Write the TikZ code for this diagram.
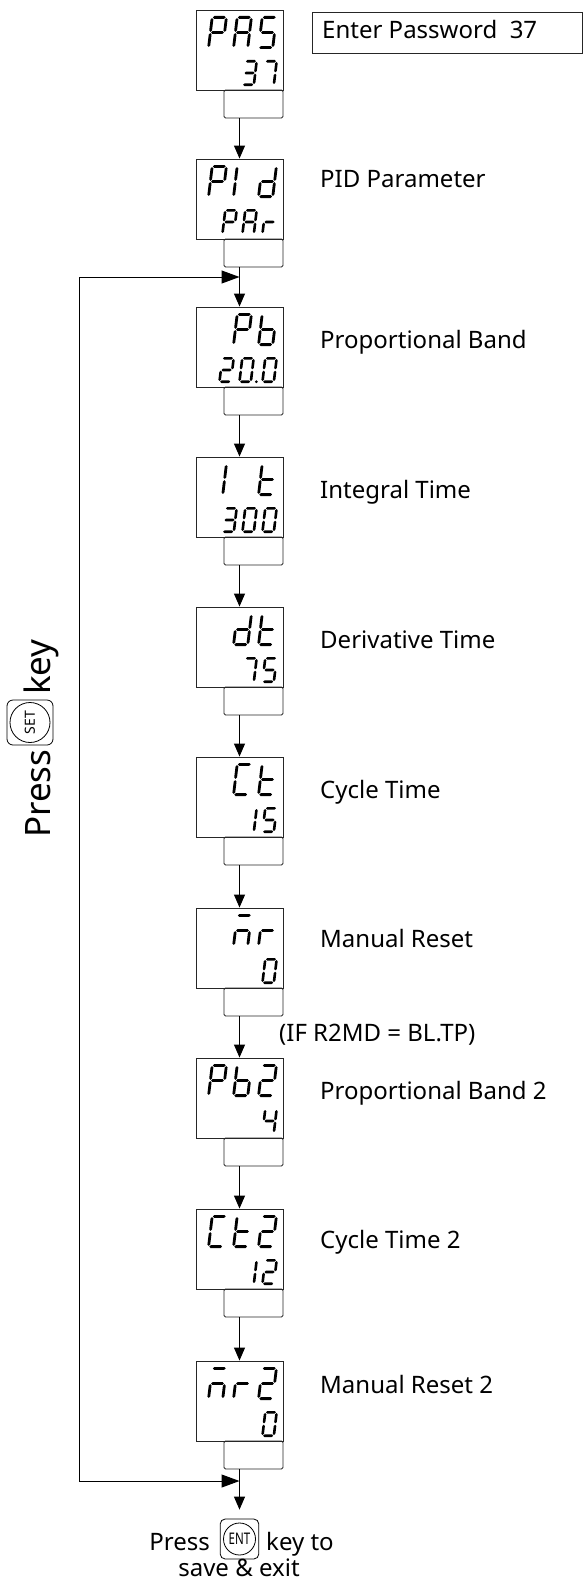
\documentclass[tikz,border=0pt]{standalone}
\usepackage{fontspec}
\setmainfont{Noto Sans}
\usepackage{graphicx}
\usetikzlibrary{arrows.meta}
\newcommand\HS[3]{\fill (#1,#3) -- ({#1+\segr},{#3+\segr}) -- ({#2-\segr},{#3+\segr}) -- (#2,#3) -- ({#2-\segr},{#3-\segr}) -- ({#1+\segr},{#3-\segr}) -- cycle;}
\newcommand\VS[3]{\fill (#1,#2) -- ({#1+\segr},{#2+\segr}) -- ({#1+\segr},{#3-\segr}) -- (#1,#3) -- ({#1-\segr},{#3-\segr}) -- ({#1-\segr},{#2+\segr}) -- cycle;}
\def\SEGa{\HS{\segr+0.7}{\sw-\segr-0.7}{\sh-\segr}}
\def\SEGg{\HS{\segr+0.7}{\sw-\segr-0.7}{\sh/2}}
\def\SEGd{\HS{\segr+0.7}{\sw-\segr-0.7}{\segr}}
\def\SEGf{\VS{\segr}{\sh/2+0.7}{\sh-\segr-0.7}}
\def\SEGe{\VS{\segr}{\segr+0.7}{\sh/2-0.7}}
\def\SEGb{\VS{\sw-\segr}{\sh/2+0.7}{\sh-\segr-0.7}}
\def\SEGc{\VS{\sw-\segr}{\segr+0.7}{\sh/2-0.7}}
\newcommand\sevseg[6]{\begin{scope}[shift={({#1},{#2})}, xslant=0.12]\def\sw{#3}\def\sh{#4}\def\segr{#5}\foreach \s in {#6}{\csname SEG\s\endcsname}\end{scope}}
\newcommand\tg[3]{\sevseg{182+25*#1}{-#2-39}{17}{33}{1.4}{#3}}
\newcommand\bg[3]{\sevseg{#1}{-#2-76}{14}{26}{1.3}{#3}}
\begin{document}
\begin{tikzpicture}[x=1pt,y=1pt,
  dispbox/.style={draw=black!85, line width=0.9pt, minimum width=87pt, minimum height=80pt, inner sep=0pt},
  keybox/.style={draw=black!85, line width=0.9pt, minimum width=59pt, minimum height=28pt, inner sep=0pt, rounded corners=1.5pt},
  conn/.style={line width=1pt, -{Triangle[length=13pt,width=11pt]}},
  lbl/.style={font=\fontsize{24}{28}\selectfont, inner sep=0pt, anchor=base west},
  bigtxt/.style={font=\fontsize{35}{40}\selectfont, inner sep=0pt, rotate=90, anchor=base west},
]
\useasboundingbox (0,0) rectangle (582,-1587);
\fill[white] (0,0) rectangle (582,-1587);
% displays
\node[dispbox] (d1) at (239.5,-50) {};
\node[dispbox] (d2) at (239.5,-199) {};
\node[dispbox] (d3) at (239.5,-347) {};
\node[dispbox] (d4) at (239.5,-497) {};
\node[dispbox] (d5) at (239.5,-647) {};
\node[dispbox] (d6) at (239.5,-797) {};
\node[dispbox] (d7) at (239.5,-948) {};
\node[dispbox] (d8) at (239.5,-1098) {};
\node[dispbox] (d9) at (239.5,-1249) {};
\node[dispbox] (d10) at (239.5,-1401) {};
\node[keybox] (k1) at (253.5,-104) {};
\node[keybox] (k2) at (253.5,-253) {};
\node[keybox] (k3) at (253.5,-401) {};
\node[keybox] (k4) at (253.5,-551) {};
\node[keybox] (k5) at (253.5,-701) {};
\node[keybox] (k6) at (253.5,-851) {};
\node[keybox] (k7) at (253.5,-1002) {};
\node[keybox] (k8) at (253.5,-1152) {};
\node[keybox] (k9) at (253.5,-1303) {};
\node[keybox] (k10) at (253.5,-1455) {};
% segment glyphs
\tg{1}{10}{a,b,e,f,g}\tg{2}{10}{a,b,c,e,f,g}\tg{3}{10}{a,f,g,c,d}
\bg{241}{10}{a,b,c,d,g}\bg{261}{10}{a,b,c}
\tg{1}{159}{a,b,e,f,g}\tg{2}{159}{e,f}\tg{3}{159}{b,c,d,e,g}
\bg{221}{159}{a,b,e,f,g}\bg{241}{159}{a,b,c,e,f,g}\bg{261}{159}{e,g}
\tg{2}{307}{a,b,e,f,g}\tg{3}{307}{c,d,e,f,g}
\bg{218}{307}{a,b,g,e,d}\bg{238}{307}{a,b,c,d,e,f}\bg{261}{307}{a,b,c,d,e,f}
\fill (256.3,-381.7) circle (1.5);
\tg{1}{457}{b,c}\tg{3}{457}{d,e,f,g}
\bg{221}{457}{a,b,c,d,g}\bg{241}{457}{a,b,c,d,e,f}\bg{261}{457}{a,b,c,d,e,f}
\tg{2}{607}{b,c,d,e,g}\tg{3}{607}{d,e,f,g}
\bg{241}{607}{a,b,c}\bg{261}{607}{a,f,g,c,d}
\tg{2}{757}{a,d,e,f}\tg{3}{757}{d,e,f,g}
\bg{241}{757}{b,c}\bg{261}{757}{a,f,g,c,d}
\tg{2}{908}{a,c,e,g}\tg{3}{908}{e,g}
\bg{261}{908}{a,b,c,d,e,f}
\tg{1}{1058}{a,b,e,f,g}\tg{2}{1058}{c,d,e,f,g}\tg{3}{1058}{a,b,g,e,d}
\bg{261}{1058}{b,c,f,g}
\tg{1}{1209}{a,d,e,f}\tg{2}{1209}{d,e,f,g}\tg{3}{1209}{a,b,g,e,d}
\bg{241}{1209}{b,c}\bg{261}{1209}{a,b,g,e,d}
\tg{1}{1361}{a,c,e,g}\tg{2}{1361}{e,g}\tg{3}{1361}{a,b,g,e,d}
\bg{261}{1361}{a,b,c,d,e,f}
% connectors
\foreach \i [evaluate=\i as \j using int(\i+1)] in {1,...,9} {
  \draw[conn] (k\i.south -| d\i.center) -- (d\j.north);
}
\coordinate (jt) at (79,-277);
\coordinate (jb) at (79,-1481);
\draw[line width=1pt, {Triangle[length=18pt,width=13pt]}-{Triangle[length=18pt,width=13pt]}] (jb -| d10.center) -- (jb) -- (jt) -- (jt -| d3.center);
% password box
\node[draw=black!85, line width=0.8pt, minimum width=269.5pt, minimum height=41pt, inner sep=0pt, anchor=north west] (pw) at (312,-12) {};
\node[lbl] (pwt) at (322,-39) {Enter Password\ \ 37};
% labels
\node[lbl] (l2) at (320,-187) {PID Parameter};
\node[lbl] (l3) at (320,-348) {Proportional Band};
\node[lbl] (l4) at (320,-498) {Integral Time};
\node[lbl] (l5) at (320,-648) {Derivative Time};
\node[lbl] (l6) at (320,-798) {Cycle Time};
\node[lbl] (l7) at (320,-947) {Manual Reset};
\node[lbl] (lif) at (279,-1041) {(IF R2MD = BL.TP)};
\node[lbl] (l8) at (320,-1099) {Proportional Band 2};
\node[lbl] (l9) at (320,-1248) {Cycle Time 2};
\node[lbl] (l10) at (320,-1393) {Manual Reset 2};
% press set key
\node[bigtxt] (rp) at (50,-838) {Press};
\node[draw, line width=0.8pt, rounded corners=6pt, minimum width=46pt, minimum height=45pt, inner sep=0pt] (setk) at (30,-722.5) {};
\node[draw, circle, line width=0.8pt, minimum size=40pt, inner sep=0pt, rotate=90, font=\fontsize{14}{16}\selectfont] (setc) at (setk.center) {SET};
\node[bigtxt] (rk) at (50,-695) {key};
% exit
\node[draw, line width=0.8pt, rounded corners=5pt, minimum width=38.6pt, minimum height=40pt, inner sep=0pt] (ent) at (239.5,-1539) {};
\node[draw, circle, line width=0.8pt, minimum size=32pt, inner sep=0pt, font=\fontsize{16}{18}\selectfont] (entc) at (ent.center) {\scalebox{0.72}[1]{\bfseries ENT}};
\draw[conn, shorten >=9pt] (k10.south -| d10.center) -- (ent.north);
\node[lbl, anchor=base east] (pr) at (210,-1550) {Press};
\node[lbl] (kt) at (266,-1550) {key to};
\node[lbl, anchor=base] (se) at (239,-1576) {save \& exit};
\end{tikzpicture}
\end{document}
